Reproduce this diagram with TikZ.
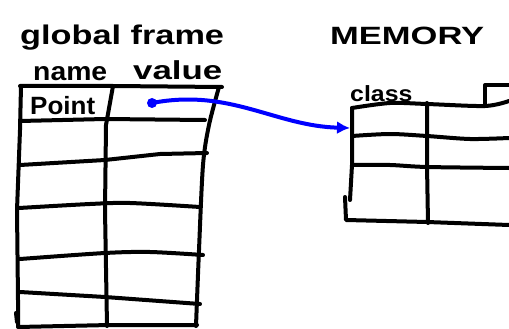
\documentclass[tikz,border=0pt]{standalone}
\usepackage{fontspec}
\setmainfont{Liberation Sans}
\usetikzlibrary{arrows.meta}
\begin{document}
\begin{tikzpicture}[x=1pt,y=-1pt,
  ink/.style={line width=4pt, line cap=round, line join=round},
  pointer/.style={blue, line width=4pt, line cap=round,
    -{Latex[length=13pt,width=13pt]}},
  hand/.style={inner sep=0pt, anchor=base west}]
\useasboundingbox[fill=white] (0,0) rectangle (509,329);

% ---- global frame table ----
\node[hand, font=\fontsize{27}{27}\selectfont\bfseries] (title) at (20,45)
  {\scalebox{1.27}[1]{global frame}};
\node[hand, font=\fontsize{26}{26}\selectfont\bfseries] (hname) at (33,81)
  {\scalebox{1.09}[1]{name}};
\node[hand, font=\fontsize{26}{26}\selectfont\bfseries] (hvalue) at (133,80)
  {\scalebox{1.34}[1]{value}};
\node[hand, font=\fontsize{25}{25}\selectfont\bfseries] (pname) at (30,114)
  {\scalebox{1.04}[1]{Point}};

\draw[ink] (20,86) -- (113,86) -- (222,87);
\draw[ink] plot[smooth] coordinates {(219,87) (209,125) (203,165) (199,250) (196,326)};
\draw[ink] (21,86) -- (20,130) -- (17,210) -- (18,300) -- (18,326);
\draw[ink] (16,313) -- (17,322);
\draw[ink] (113,86) -- (106,125) -- (105,210) -- (107,326);
\draw[ink] (20,121) -- (105,119) -- (205,120);
\draw[ink] (20,165) -- (105,160) -- (160,154) -- (207,153);
\draw[ink] plot[smooth] coordinates {(19,208) (90,204) (130,203) (200,207)};
\draw[ink] plot[smooth] coordinates {(20,259) (105,253) (150,252) (203,255)};
\draw[ink] (20,292) -- (105,297) -- (200,304);
\draw[ink] (18,327) -- (110,325) -- (197,325);

% ---- memory ----
\node[hand, font=\fontsize{25}{25}\selectfont\bfseries] (mem) at (330,45)
  {\scalebox{1.38}[1]{MEMORY}};
\node[hand, font=\fontsize{22}{22}\selectfont\bfseries] (cls) at (350,102)
  {\scalebox{1.13}[1]{class}};

\draw[ink] plot[smooth] coordinates {(352,108) (390,103) (427,104) (485,106) (509,101)};
\draw[ink] (485,106) -- (485,85) -- (509,85);
\draw[ink] (352,108) -- (352,165) -- (350,200);
\draw[ink] (345,197) -- (346,220) -- (427,222) -- (509,225);
\draw[ink] (427,103) -- (427,165) -- (428,223);
\draw[ink] plot[smooth] coordinates {(352,136) (390,134) (427,136) (470,139) (509,138)};
\draw[ink] plot[smooth] coordinates {(352,165) (390,165) (427,167) (509,168)};

% ---- reference from the value cell to the class object ----
\node[circle, fill=blue, inner sep=0pt, minimum size=10pt] (dot) at (152,103) {};
\coordinate (objleft) at (350,128);
\draw[pointer] (dot.center) .. controls (230,88) and (275,126) .. (objleft);
\end{tikzpicture}
\end{document}
